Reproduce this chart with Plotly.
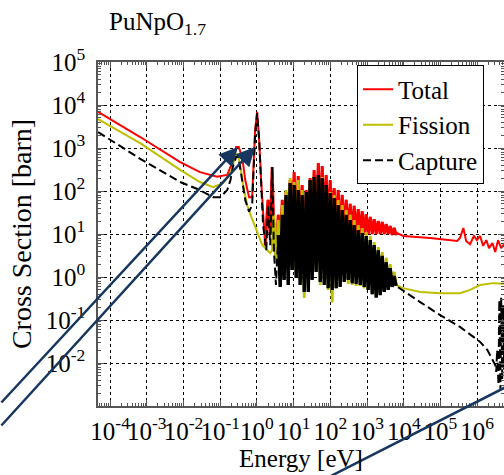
import plotly.graph_objects as go

# ---------------- data ----------------
# Total cross section
total_E_thermal = [4.7e-5, 6.6e-4, 8.1e-3, 0.028, 0.082, 0.155, 0.21, 0.27, 0.32, 0.40,
                   0.48, 0.61, 0.74, 0.89, 1.01, 1.15, 1.3, 1.47]
total_xs_thermal = [6900, 1800, 470, 275, 214, 236, 450, 1050, 1050, 590,
                    180, 72, 72, 2600, 6900, 1550, 180, 28]
total_E_res = [1.67, 2.0, 2.3, 2.6, 2.9, 3.3, 3.8, 4.3, 4.9, 5.5, 6.2, 7.1, 8.0, 9.1, 10.3,
               11.7, 13.3, 15, 17, 19.4, 22, 25, 28, 32, 36, 41, 47, 53, 60, 68, 77, 87,
               99, 112, 127, 144, 163, 185, 210, 238, 270, 306, 347, 393, 445, 505, 573,
               650, 736, 835, 946, 1070, 1220, 1380, 1560, 1770, 2010, 2280, 2580, 2930,
               3320, 3760, 4260, 4830, 5470, 6200]
total_xs_res = [5.5, 62, 9.5, 361, 7.2, 3.2, 28, 5.5, 62, 9.5, 95, 12.4, 180, 16.2, 277,
                12.4, 223, 9.5, 138, 7.2, 105, 9.5, 201, 12.4, 308, 16.2, 448, 13.8, 381,
                16.2, 236, 13.8, 180, 16.2, 117, 12.4, 105, 11.1, 81, 11.1, 62, 10.5, 50,
                10, 45, 10, 38, 10, 34, 10, 29, 10, 25, 10, 22, 10, 20, 10, 19, 10, 17,
                10, 15.3, 9.5, 13.8, 9.5]
total_E_fast = [6600, 9600, 5.2e4, 2.85e5, 3.4e5, 4.2e5, 5.0e5, 6.4e5, 8.1e5, 9.8e5,
                1.2e6, 1.45e6, 1.77e6, 2.1e6, 2.6e6, 3.1e6, 3.7e6, 4.5e6, 5.4e6, 6.5e6]
total_xs_fast = [10.5, 9.0, 8.1, 6.9, 8.1, 13.8, 6.9, 5.8, 9.0, 7.2,
                 9.0, 5.3, 7.2, 4.7, 6.2, 3.8, 7.2, 4.7, 5.8, 5.5]

# Fission cross section
fission_E_thermal = [4.7e-5, 6.6e-4, 8.1e-3, 0.028, 0.064, 0.12, 0.19, 0.24, 0.29, 0.35,
                     0.42, 0.54, 0.69, 0.95, 1.4, 2.3]
fission_xs_thermal = [4700, 1300, 310, 162, 123, 155, 263, 525, 760, 400,
                      138, 47, 26, 12.4, 5.5, 3.6]
fission_E_res = [2.6, 2.9, 3.3, 3.8, 4.3, 4.9, 5.5, 6.2, 7.1, 8.0, 9.1, 10.3, 11.7, 13.3,
                 15, 17, 19.4, 22, 25, 28, 32, 36, 41, 47, 53, 60, 68, 77, 87, 99, 112,
                 127, 144, 163, 185, 210, 238, 270, 306, 347, 393, 445, 505, 573, 650,
                 736, 835, 946, 1070, 1220, 1380, 1560, 1770, 2010, 2280, 2580, 2930,
                 3320, 3760, 4260, 4830, 5470, 6200]
fission_xs_res = [4.2, 28, 2.2, 21, 1.46, 47, 1.6, 105, 1.9, 201, 2.5, 162, 1.46, 180,
                  0.85, 105, 0.33, 81, 0.50, 153, 1.11, 201, 1.46, 223, 0.65, 212, 0.77,
                  138, 0.50, 95, 0.26, 81, 0.55, 62, 0.69, 47, 0.77, 36, 0.69, 28, 0.65,
                  21, 0.62, 16.2, 0.62, 13.8, 0.55, 11.1, 0.50, 9.0, 0.45, 6.5, 0.36, 5.0,
                  0.40, 3.8, 0.50, 2.8, 0.53, 2.0, 0.59, 1.31, 0.65]
fission_E_fast = [9600, 2.8e4, 9.8e4, 3.4e5, 6.4e5, 1.2e6, 2.7e6, 5.4e6, 8e6]
fission_xs_fast = [0.55, 0.45, 0.42, 0.42, 0.50, 0.65, 0.72, 0.69, 0.69]

# Capture cross section
capture_E_thermal = [4.7e-5, 6.6e-4, 8.1e-3, 0.028, 0.064, 0.10, 0.155, 0.19, 0.22, 0.27,
                     0.31, 0.40, 0.48, 0.61, 0.74, 0.89, 1.01, 1.15, 1.3, 1.47]
capture_xs_thermal = [2350, 560, 162, 105, 72, 72, 105, 180, 360, 615,
                      650, 180, 62, 33, 47, 2000, 6500, 1550, 138, 16]
capture_E_res = [1.8, 2.0, 2.3, 2.6, 2.9, 3.3, 3.8, 4.3, 4.9, 5.5, 6.2, 7.1, 8.0, 9.1,
                 10.3, 11.7, 13.3, 15, 17, 19.4, 22, 25, 28, 32, 36, 41, 47, 53, 60, 68,
                 77, 87, 99, 112, 127, 144, 163, 185, 210, 238, 270, 306, 347, 393, 445,
                 505, 573, 650, 736, 835, 946, 1070, 1220, 1380, 1560, 1770, 2010, 2280,
                 2580, 2930, 3320, 3760, 4260, 4830, 5470, 6200]
capture_xs_res = [4.2, 47, 5.5, 361, 4.2, 0.65, 9.5, 0.59, 28, 0.85, 81, 0.65, 153, 1.46,
                  138, 0.95, 105, 0.65, 81, 0.45, 95, 0.45, 180, 0.85, 212, 1.31, 236,
                  0.77, 201, 0.65, 138, 0.55, 90, 0.50, 69, 0.55, 47, 0.59, 36, 0.77, 28,
                  0.85, 21, 0.72, 16.2, 0.69, 12.4, 0.65, 10.5, 0.59, 9.0, 0.50, 7.2,
                  0.40, 5.5, 0.33, 4.2, 0.38, 3.1, 0.45, 2.2, 0.50, 1.6, 0.59, 1.05, 0.62]
capture_E_fast = [2.8e4, 9.8e4, 3.4e5, 1.2e6, 1.9e6, 2.6e6, 3.1e6, 3.3e6, 3.5e6, 3.8e6,
                  4.0e6, 4.3e6, 4.5e6, 4.8e6, 5.1e6, 5.4e6, 5.8e6]
capture_xs_fast = [0.26, 0.13, 0.069, 0.031, 0.020, 0.0117, 0.0090, 0.0062, 0.020, 0.0031,
                   0.29, 0.0024, 0.33, 0.0040, 0.22, 0.0069, 0.25]

x_tick_vals = [1e-4, 1e-3, 1e-2, 1e-1, 1e0, 1e1, 1e2, 1e3, 1e4, 1e5, 1e6]
x_tick_text = ["10<sup>-4</sup>", "10<sup>-3</sup>", "10<sup>-2</sup>", "10<sup>-1</sup>",
               "10<sup>0</sup>", "10<sup>1</sup>", "10<sup>2</sup>", "10<sup>3</sup>",
               "10<sup>4</sup>", "10<sup>5</sup>", "10<sup>6</sup>"]
y_tick_vals = [1e-2, 1e-1, 1e0, 1e1, 1e2, 1e3, 1e4, 1e5]
y_tick_text = ["10<sup>-2</sup>", "10<sup>-1</sup>", "10<sup>0</sup>", "10<sup>1</sup>",
               "10<sup>2</sup>", "10<sup>3</sup>", "10<sup>4</sup>", "10<sup>5</sup>"]

# ---------------- figure ----------------
FONT = "Liberation Serif"
NAVY = "#17375E"
RED, YEL, BLK = "#FF0000", "#BFBF00", "#000000"

fig = go.Figure()
# Total
fig.add_trace(go.Scatter(
    x=total_E_thermal + total_E_res + total_E_fast,
    y=total_xs_thermal + total_xs_res + total_xs_fast,
    mode="lines", name="Total", legendgroup="t", line=dict(color=RED, width=2)))
fig.add_trace(go.Scatter(x=total_E_res, y=total_xs_res, mode="lines", legendgroup="t",
                         showlegend=False, line=dict(color=RED, width=3)))
# Fission
fig.add_trace(go.Scatter(
    x=fission_E_thermal + fission_E_res + fission_E_fast,
    y=fission_xs_thermal + fission_xs_res + fission_xs_fast,
    mode="lines", name="Fission", legendgroup="f", line=dict(color=YEL, width=2)))
fig.add_trace(go.Scatter(x=fission_E_res, y=fission_xs_res, mode="lines", legendgroup="f",
                         showlegend=False, line=dict(color=YEL, width=2.8)))
# Capture
fig.add_trace(go.Scatter(
    x=capture_E_thermal + capture_E_res + capture_E_fast,
    y=capture_xs_thermal + capture_xs_res + capture_xs_fast,
    mode="lines", name="Capture", legendgroup="c",
    line=dict(color=BLK, width=2, dash="8px,4px")))
fig.add_trace(go.Scatter(x=capture_E_res[6:], y=capture_xs_res[6:], mode="lines",
                         legendgroup="c", showlegend=False,
                         line=dict(color=BLK, width=3.4)))

axis_common = dict(
    type="log", showline=True, linecolor="#555555", linewidth=1.5, mirror="ticks",
    ticks="inside", ticklen=6, tickcolor="#555555", showgrid=True, gridcolor="#000000",
    gridwidth=1, griddash="dot", zeroline=False, tickangle=0,
    tickfont=dict(family=FONT, size=25, color="#000000"),
    minor=dict(ticks="inside", ticklen=3, dtick="D1", tickcolor="#555555", showgrid=False),
)

fig.update_xaxes(**axis_common, range=[-4.33, 6.73], tickvals=x_tick_vals,
                 ticktext=x_tick_text, ticklabelstandoff=2,
                 title=dict(text="Energy [eV]", font=dict(family=FONT, size=25, color="#000"),
                            standoff=0))
fig.update_yaxes(**axis_common, range=[-3, 5], tickvals=y_tick_vals,
                 ticktext=y_tick_text, ticklabelstandoff=6,
                 title=dict(text="Cross Section [barn]",
                            font=dict(family=FONT, size=28, color="#000"), standoff=6))

fig.update_layout(
    width=504, height=475,
    margin=dict(l=98, r=0, t=62, b=69, autoexpand=False),
    paper_bgcolor="white", plot_bgcolor="white",
    font=dict(family=FONT, color="#000"),
    showlegend=True,
    legend=dict(x=0.638, y=0.99, xanchor="left", yanchor="top", bgcolor="white",
                bordercolor="#000", borderwidth=1,
                font=dict(family=FONT, size=25, color="#000"),
                tracegroupgap=0, traceorder="normal"),
    annotations=[
        dict(text="PuNpO<sub>1.7</sub>", xref="paper", yref="paper", x=0.022, y=1.06,
             xanchor="left", yanchor="bottom", showarrow=False,
             font=dict(family=FONT, size=25, color="#000")),
        dict(text="", xref="paper", yref="paper", x=0.3448, y=0.7529, ax=-238, ay=257,
             showarrow=True, arrowhead=2, arrowsize=1.5, arrowwidth=2.5,
             arrowcolor=NAVY, standoff=0),
        dict(text="", xref="paper", yref="paper", x=0.3867, y=0.7529, ax=-255, ay=280,
             showarrow=True, arrowhead=2, arrowsize=1.5, arrowwidth=2.5,
             arrowcolor=NAVY, standoff=0),
    ],
    shapes=[
        dict(type="line", xref="paper", yref="paper", x0=0.5296, y0=-0.230,
             x1=1.064, y1=0.0907, line=dict(color=NAVY, width=2.5)),
    ],
)

fig.write_html("out.html", config={"displayModeBar": False},
               post_script="document.body.style.margin='0';"
                           "document.body.style.overflow='hidden';")
